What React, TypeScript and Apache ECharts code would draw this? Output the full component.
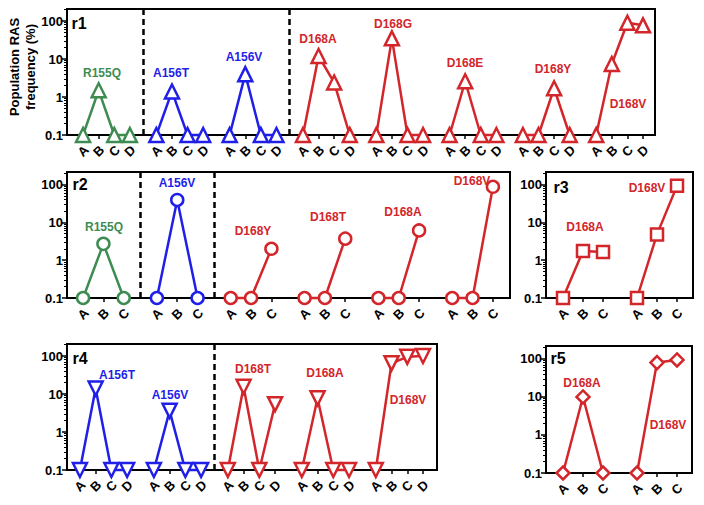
import React, { useEffect, useRef } from 'react';
import * as echarts from 'echarts';

const LETTERS = ['A', 'B', 'C', 'D'];
const yTickValues = [0.1, 1, 10, 100];
const yTickLabels = ['0.1', '1', '10', '100'];
const panelNames = ['r1', 'r2', 'r3', 'r4', 'r5'];

const r1Mutants = ['R155Q', 'A156T', 'A156V', 'D168A', 'D168G', 'D168E', 'D168Y', 'D168V'];
const r1Values = [
  [0.1, 1.5, 0.1, 0.1],
  [0.1, 1.4, 0.1, 0.1],
  [0.1, 4.0, 0.1, 0.1],
  [0.1, 12, 2.4, 0.1],
  [0.1, 35, 0.1, 0.1],
  [0.1, 2.6, 0.1, 0.1],
  [0.1, 0.1, 1.7, 0.1],
  [0.1, 7.4, 90, 77],
];
const r2Mutants = ['R155Q', 'A156V', 'D168Y', 'D168T', 'D168A', 'D168V'];
const r2Values = [
  [0.1, 2.7, 0.1],
  [0.1, 39, 0.1],
  [0.1, 0.1, 2.0],
  [0.1, 0.1, 3.7],
  [0.1, 0.1, 6.1],
  [0.1, 0.1, 87],
];
const r3Mutants = ['D168A', 'D168V'];
const r3Values = [
  [0.1, 1.75, 1.65],
  [0.1, 4.8, 92],
];
const r4Mutants = ['A156T', 'A156V', 'D168T', 'D168A', 'D168V'];
const r4Values = [
  [0.1, 14, 0.1, 0.1],
  [0.1, 3.6, 0.1, 0.1],
  [0.1, 15.5, 0.1, 5.4],
  [0.1, 7.7, 0.1, 0.1],
  [0.1, 64, 95, 100],
];
const r5Mutants = ['D168A', 'D168V'];
const r5Values = [
  [0.1, 10, 0.1],
  [0.1, 80, 94],
];

const GREEN = '#3e8c52';
const BLUE = '#1f1fe8';
const RED = '#d3262b';
const FONT = '"Liberation Sans", Arial, Helvetica, sans-serif';

function colorFor(m: string) {
  if (m.startsWith('R155')) return GREEN;
  if (m.startsWith('A156')) return BLUE;
  return RED;
}

// layout (pixels / axis units)
const layouts = [
  {
    mutants: r1Mutants, values: r1Values, symbol: 'triangle', rot: 0, size: 14,
    left: 67, top: 9, width: 588, height: 126, step: 4.7, xMin: -1.03, xMax: 36.67, yMax: 2.316,
    dividersAfter: [0, 2],
    labelPos: [[102, 73], [171, 73], [244, 57], [318, 39], [393, 24], [465, 63], [553, 69], [628, 104]],
    namePos: [79, 23],
  },
  {
    mutants: r2Mutants, values: r2Values, symbol: 'circle', rot: 0, size: 12,
    left: 67, top: 172, width: 443, height: 126, step: 3.63, xMin: -0.79, xMax: 20.99, yMax: 2.33,
    dividersAfter: [0, 1],
    labelPos: [[104, 227], [177, 183], [253, 231], [328, 217], [403, 212], [472, 181]],
    namePos: [80, 184],
  },
  {
    mutants: r3Mutants, values: r3Values, symbol: 'rect', rot: 0, size: 12,
    left: 546, top: 172, width: 147, height: 126, step: 3.7, xMin: -0.85, xMax: 6.5, yMax: 2.33,
    dividersAfter: [],
    labelPos: [[585, 227], [647, 188]],
    namePos: [561, 187],
  },
  {
    mutants: r4Mutants, values: r4Values, symbol: 'triangle', rot: 180, size: 14,
    left: 67, top: 344, width: 370, height: 126, step: 4.7, xMin: -0.82, xMax: 22.69, yMax: 2.316,
    dividersAfter: [1],
    labelPos: [[117, 375], [170, 395], [253, 369], [325, 373], [408, 400]],
    namePos: [80, 358],
  },
  {
    mutants: r5Mutants, values: r5Values, symbol: 'diamond', rot: 0, size: 13,
    left: 546, top: 346, width: 146, height: 127, step: 3.7, xMin: -0.85, xMax: 6.45, yMax: 2.34,
    dividersAfter: [],
    labelPos: [[582, 383], [668, 425]],
    namePos: [558, 358],
  },
];

const LABEL_DROP_PX = 16;

const minorTicks: number[] = [];
for (let d = -1; d <= 2; d++) {
  for (let k = 2; k <= 9; k++) minorTicks.push(Math.log10(k * Math.pow(10, d)));
}

function catPositions(p: any) {
  const nCat = p.values[0].length;
  const out: { x: number; letter: string }[] = [];
  p.mutants.forEach((_: string, g: number) => {
    for (let c = 0; c < nCat; c++) out.push({ x: +(g * p.step + c).toFixed(4), letter: LETTERS[c] });
  });
  return out;
}

function buildOption() {
  const grid: any[] = [];
  const xAxis: any[] = [];
  const yAxis: any[] = [];
  const series: any[] = [];
  const graphic: any[] = [];

  layouts.forEach((p, pi) => {
    grid.push({
      left: p.left, top: p.top, width: p.width, height: p.height,
      show: true, borderColor: '#000', borderWidth: 2, backgroundColor: 'transparent',
    });
    const nCat = p.values[0].length;
    const positions = catPositions(p).map((d) => d.x);
    xAxis.push({
      type: 'value', gridIndex: pi, min: p.xMin, max: p.xMax, position: 'bottom',
      axisLine: { show: true, onZero: false, lineStyle: { color: '#000', width: 2 } },
      axisTick: { show: true, customValues: positions, length: 4, lineStyle: { color: '#000', width: 1.5 } },
      axisLabel: { show: false },
      splitLine: { show: false },
    });
    const yVals = yTickValues.map((v) => Math.log10(v));
    yAxis.push({
      type: 'value', gridIndex: pi, min: -1, max: p.yMax, position: 'left',
      axisLine: { show: true, onZero: false, lineStyle: { color: '#000', width: 2 } },
      axisTick: { show: true, customValues: yVals, length: 5, lineStyle: { color: '#000', width: 1.5 } },
      axisLabel: {
        show: true, customValues: yVals, margin: 4,
        fontFamily: FONT, fontSize: 13, fontWeight: 'bold', color: '#000',
        formatter: (v: number) => {
          const i = yVals.findIndex((t) => Math.abs(t - v) < 1e-6);
          return i >= 0 ? yTickLabels[i] : '';
        },
      },
      splitLine: { show: false },
    });
    yAxis.push({
      type: 'value', gridIndex: pi, min: -1, max: p.yMax, position: 'left',
      axisLine: { show: false, onZero: false },
      axisTick: { show: true, customValues: minorTicks.filter((t) => t <= p.yMax), length: 3, lineStyle: { color: '#000', width: 1 } },
      axisLabel: { show: false },
      splitLine: { show: false },
    });
    const yIdx = yAxis.length - 2;
    const dividers = p.dividersAfter.map((g) => ((g * p.step + nCat - 1) + (g + 1) * p.step) / 2);

    p.mutants.forEach((m, g) => {
      const col = colorFor(m);
      const s: any = {
        type: 'line', xAxisIndex: pi, yAxisIndex: yIdx, name: m,
        data: p.values[g].map((v, c) => [g * p.step + c, Math.log10(v)]),
        symbol: p.symbol, symbolSize: p.size, symbolRotate: p.rot, showSymbol: true,
        clip: false, z: 3,
        lineStyle: { color: col, width: 2.5 },
        itemStyle: { color: '#fff', borderColor: col, borderWidth: 2.5 },
        emphasis: { disabled: true },
      };
      if (g === 0 && dividers.length) {
        s.markLine = {
          silent: true, symbol: 'none', label: { show: false },
          lineStyle: { color: '#000', type: [6, 4], width: 2.5 },
          data: dividers.map((x) => ({ xAxis: x })),
        };
      }
      series.push(s);
      graphic.push({
        type: 'text', x: p.labelPos[g][0], y: p.labelPos[g][1], z: 10,
        style: {
          text: m, fill: col, font: `bold 12px ${FONT}`,
          textAlign: 'center', textVerticalAlign: 'middle',
        },
      });
    });
    graphic.push({
      type: 'text', x: p.namePos[0], y: p.namePos[1], z: 10,
      style: {
        text: panelNames[pi], fill: '#000', font: `bold 16px ${FONT}`,
        textAlign: 'center', textVerticalAlign: 'middle',
      },
    });
  });

  graphic.push({
    type: 'text', x: 22, y: 67, rotation: Math.PI / 2, z: 10,
    style: {
      text: 'Population RAS\nfrequency (%)', fill: '#000', font: `bold 13px ${FONT}`,
      textAlign: 'center', textVerticalAlign: 'middle', lineHeight: 16,
    },
  });

  return {
    animation: false,
    backgroundColor: '#fff',
    textStyle: { fontFamily: FONT },
    grid, xAxis, yAxis, series, graphic,
  };
}

export default function App() {
  const ref = useRef<HTMLDivElement>(null);
  useEffect(() => {
    if (!ref.current) return;
    const chart = echarts.init(ref.current, undefined, { renderer: 'svg' });
    const option: any = buildOption();
    chart.setOption(option);
    // rotated category letters, placed through each panel's axes
    const letters: any[] = [];
    layouts.forEach((p, pi) => {
      catPositions(p).forEach((d) => {
        const pt = chart.convertToPixel({ gridIndex: pi } as any, [d.x, -1]) as number[];
        if (!pt) return;
        letters.push({
          type: 'text', x: pt[0], y: pt[1] + LABEL_DROP_PX, rotation: Math.PI / 4, z: 10,
          style: {
            text: d.letter, fill: '#000', font: `bold 13px ${FONT}`,
            textAlign: 'center', textVerticalAlign: 'middle',
          },
        });
      });
    });
    chart.setOption({ graphic: [...option.graphic, ...letters] });
    return () => chart.dispose();
  }, []);
  return (
    <div
      ref={ref}
      style={{ position: 'fixed', left: 0, top: 0, width: 704, height: 505, background: '#fff' }}
    />
  );
}
